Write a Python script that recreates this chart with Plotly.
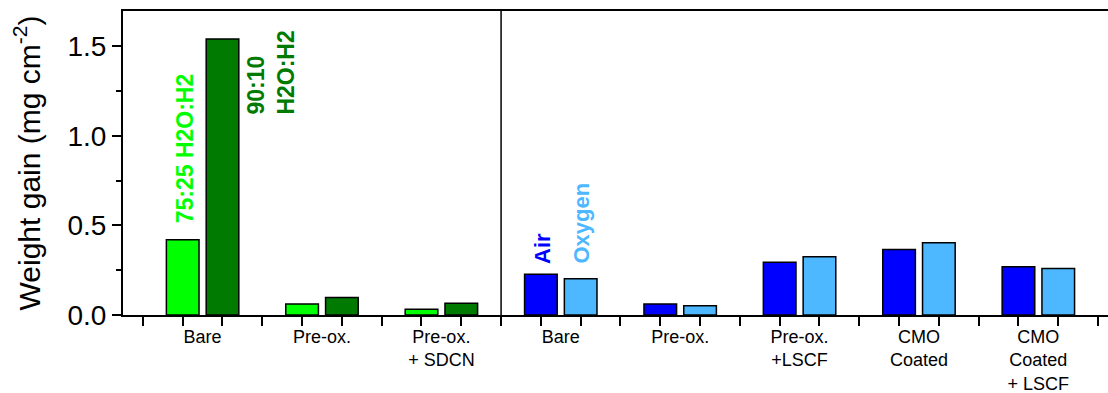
import plotly.graph_objects as go

# ---- data ----
left_categories = ["Bare", "Pre-ox.", "Pre-ox.<br>+ SDCN"]
h2o_75_25 = [0.42, 0.061, 0.032]
h2o_90_10 = [1.54, 0.097, 0.065]

right_categories = ["Bare", "Pre-ox.", "Pre-ox.<br>+LSCF", "CMO<br>Coated", "CMO<br>Coated<br>+ LSCF"]
air_values = [0.227, 0.061, 0.294, 0.366, 0.269]
oxygen_values = [0.202, 0.052, 0.325, 0.403, 0.260]

y_tick_vals = [0.0, 0.5, 1.0, 1.5]
y_tick_text = ["0.0", "0.5", "1.0", "1.5"]

# ---- positions derived from category index (3 slots per group) ----
n_left = len(left_categories)
left_a = [3 * k + 1 for k in range(n_left)]
left_b = [3 * k + 2 for k in range(n_left)]
left_lab = [3 * k + 1.5 for k in range(n_left)]
offset = 3 * n_left
right_a = [offset + 3 * k + 1 for k in range(len(right_categories))]
right_b = [offset + 3 * k + 2 for k in range(len(right_categories))]
right_lab = [offset + 3 * k + 1.5 for k in range(len(right_categories))]
n_slots = offset + 3 * len(right_categories)

FONT = "Liberation Sans, Arial, Helvetica, sans-serif"
LGREEN = "#00FF00"
DGREEN = "#007A00"
BLUE = "#0000FF"
LBLUE = "#4DB8FF"
BW = 0.82

fig = go.Figure()
line = dict(color="black", width=1.5)
fig.add_trace(go.Bar(x=left_a, y=h2o_75_25, width=BW, marker=dict(color=LGREEN, line=line), name="75:25 H2O:H2"))
fig.add_trace(go.Bar(x=left_b, y=h2o_90_10, width=BW, marker=dict(color=DGREEN, line=line), name="90:10 H2O:H2"))
fig.add_trace(go.Bar(x=right_a, y=air_values, width=BW, marker=dict(color=BLUE, line=line), name="Air"))
fig.add_trace(go.Bar(x=right_b, y=oxygen_values, width=BW, marker=dict(color=LBLUE, line=line), name="Oxygen"))
# invisible trace to activate the label axis
fig.add_trace(go.Scatter(x=left_lab + right_lab, y=[0] * (len(left_lab) + len(right_lab)),
                         xaxis="x2", mode="markers", marker=dict(opacity=0, size=1), hoverinfo="skip"))

xrange = [-0.5, n_slots + 0.25]

fig.update_layout(
    width=1108, height=393,
    margin=dict(l=123, r=0, t=11, b=78),
    paper_bgcolor="white", plot_bgcolor="white",
    showlegend=False,
    barmode="overlay",
    font=dict(family=FONT, color="black"),
    xaxis=dict(
        range=xrange, tickmode="array", tickvals=list(range(n_slots + 1)),
        showticklabels=False, ticks="outside", ticklen=9, tickwidth=1.5, tickcolor="black",
        showline=True, linecolor="black", linewidth=2, mirror=True,
        showgrid=False, zeroline=False, automargin=False,
    ),
    xaxis2=dict(
        range=xrange, overlaying="x", side="bottom", anchor="y",
        tickmode="array", tickvals=left_lab + right_lab,
        ticktext=left_categories + right_categories,
        ticks="", ticklen=0, showline=False, showgrid=False, zeroline=False,
        tickfont=dict(size=18, family=FONT, color="black"),
        ticklabelstandoff=9, automargin=False,
    ),
    yaxis=dict(
        range=[0, 1.697], tickmode="array", tickvals=y_tick_vals, ticktext=y_tick_text,
        ticks="outside", ticklen=9, tickwidth=1.5, tickcolor="black",
        minor=dict(tickmode="array", tickvals=[0.25, 0.75, 1.25], ticks="outside",
                   ticklen=5, tickwidth=1.5, tickcolor="black"),
        showline=True, linecolor="black", linewidth=2,
        showgrid=False, zeroline=False, automargin=False,
        tickfont=dict(size=28, family=FONT, color="black"),
        title=dict(text="Weight gain (mg cm<sup>-2</sup>)", font=dict(size=30, family=FONT, color="black"),
                   standoff=18),
    ),
)

# divider between the two panels
fig.add_shape(type="line", xref="x", yref="paper", x0=offset, x1=offset, y0=0, y1=1,
              line=dict(color="black", width=1.5))

ann_font = dict(family=FONT, size=23, weight="bold")
fig.add_annotation(x=left_a[0] + 0.08, y=0.5, text="75:25 H2O:H2", textangle=-90, showarrow=False,
                   xanchor="center", yanchor="bottom", font=dict(ann_font, color=LGREEN))
fig.add_annotation(x=3.23, y=1.11, text="90:10<br>H2O:H2", textangle=-90, showarrow=False, align="left",
                   xanchor="center", yanchor="bottom", font=dict(ann_font, color=DGREEN))
fig.add_annotation(x=right_a[0] + 0.04, y=0.274, text="Air", textangle=-90, showarrow=False,
                   xanchor="center", yanchor="bottom", font=dict(ann_font, size=22, color=BLUE))
fig.add_annotation(x=right_b[0] + 0.02, y=0.276, text="Oxygen", textangle=-90, showarrow=False,
                   xanchor="center", yanchor="bottom", font=dict(ann_font, size=22, color=LBLUE))

fig.write_html("out.html")
